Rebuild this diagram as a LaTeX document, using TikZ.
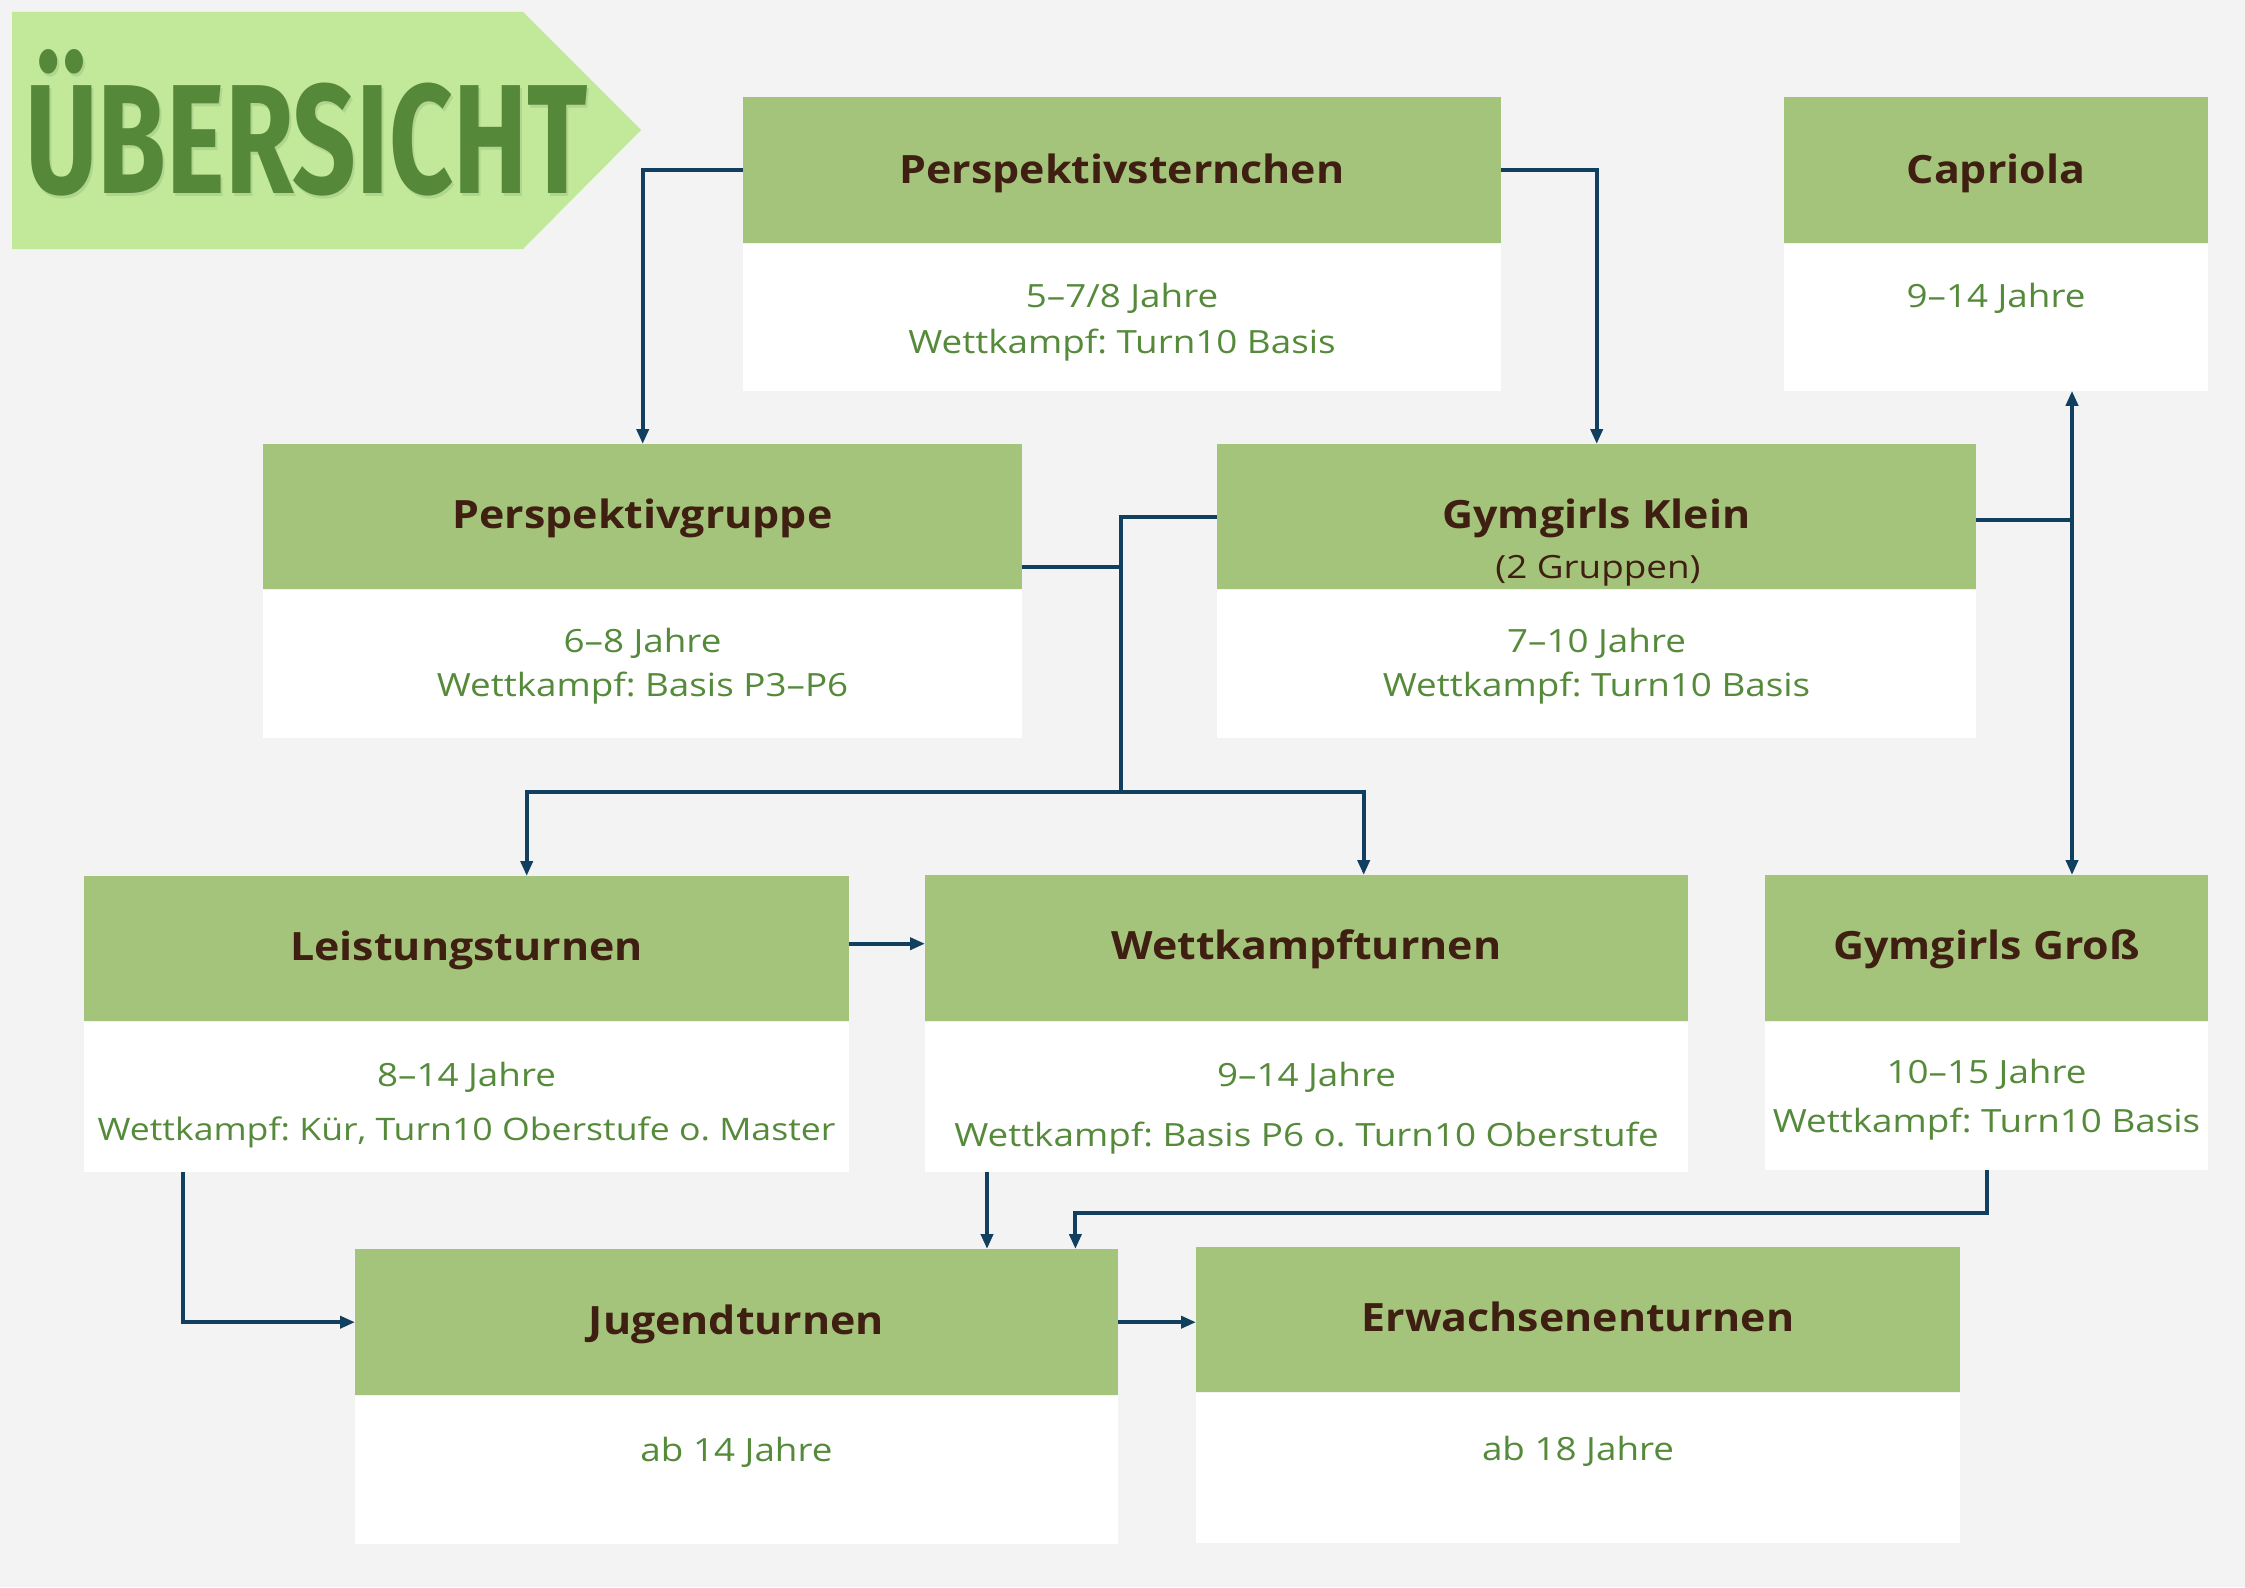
\documentclass[tikz,border=0pt]{standalone}
\usepackage{fontspec}
\setmainfont{Open Sans}
\newfontfamily\bodyfont{Open Sans}[FakeStretch=1.15]
\newfontfamily\headfont{Open Sans}[FakeStretch=1.1]
\newfontfamily\titlefont{Fira Sans}
\usetikzlibrary{arrows.meta}
\definecolor{bg}{HTML}{F3F3F3}
\definecolor{hdrgreen}{HTML}{A4C47C}
\definecolor{bannergreen}{HTML}{C2E89A}
\definecolor{titlegreen}{HTML}{56883A}
\definecolor{shadowgreen}{HTML}{B0D58E}
\definecolor{brown}{HTML}{3E1F12}
\definecolor{txtgreen}{HTML}{558A3B}
\definecolor{linkblue}{HTML}{113F5F}
\newcommand\mycard[6]{%
  \node[hdr, minimum width=#4pt, minimum height=#5pt] (#1-h) at (#2,#3) {};
  \node[bdy, minimum width=#4pt, minimum height=#6pt] (#1-b) at (#1-h.south west) {};
}
\frenchspacing
\begin{document}
\begin{tikzpicture}[x=1pt,y=-1pt,
  hdr/.style={fill=hdrgreen, draw=none, inner sep=0pt, anchor=north west},
  bdy/.style={fill=white, draw=none, inner sep=0pt, anchor=north west},
  ttl/.style={anchor=base, inner sep=0pt, text=brown, font=\fontsize{39}{47}\selectfont\headfont\bfseries},
  sub/.style={anchor=base, inner sep=0pt, text=brown, font=\fontsize{32}{38}\selectfont\bodyfont},
  txt/.style={anchor=base, inner sep=0pt, text=txtgreen, font=\fontsize{32}{38}\selectfont\bodyfont},
  arr/.style={draw=linkblue, line width=4pt, -{Triangle[length=15pt,width=12pt]}},
  lnk/.style={draw=linkblue, line width=4pt}]
\useasboundingbox[fill=bg] (0,0) rectangle (2245,1587);

% banner
\fill[bannergreen] (12,12) -- (523,12) -- (641,130) -- (523,249) -- (12,249) -- cycle;
\node[anchor=north west, inner sep=0pt, text=shadowgreen] (titleshadow) at (27,52)
  {\resizebox{562pt}{144pt}{\titlefont\bfseries ÜBERSICHT}};
\node[anchor=north west, inner sep=0pt, text=titlegreen] (title) at (25,49)
  {\resizebox{562pt}{144pt}{\titlefont\bfseries ÜBERSICHT}};

% cards
\mycard{ps}{743}{97}{758}{146}{147}
\mycard{cap}{1784}{97}{424}{146}{147}
\mycard{pg}{263}{444}{759}{145}{148}
\mycard{gk}{1217}{444}{759}{145}{148}
\mycard{lt}{84}{876}{765}{145}{150}
\mycard{wt}{925}{875}{763}{146}{150}
\mycard{gg}{1765}{875}{443}{146}{148}
\mycard{jt}{355}{1249}{763}{146}{148}
\mycard{et}{1196}{1247}{764}{145}{150}

% texts
\node[ttl] (ps-t) at (1122,183) {Perspektivsternchen};
\node[txt] (ps-1) at (1122,307) {5–7/8 Jahre};
\node[txt] (ps-2) at (1122,353) {Wettkampf: Turn10 Basis};

\node[ttl] (cap-t) at (1996,183) {Capriola};
\node[txt] (cap-1) at (1996,307) {9–14 Jahre};

\node[ttl] (pg-t) at (642.5,528) {Perspektivgruppe};
\node[txt] (pg-1) at (642.5,652) {6–8 Jahre};
\node[txt] (pg-2) at (642.5,696) {Wettkampf: Basis P3–P6};

\node[ttl] (gk-t) at (1596.5,528) {Gymgirls Klein};
\node[sub] (gk-s) at (1598,578) {(2 Gruppen)};
\node[txt] (gk-1) at (1596.5,652) {7–10 Jahre};
\node[txt] (gk-2) at (1596.5,696) {Wettkampf: Turn10 Basis};

\node[ttl] (lt-t) at (466.5,960) {Leistungsturnen};
\node[txt] (lt-1) at (466.5,1086) {8–14 Jahre};
\node[txt, font=\fontsize{31}{37}\selectfont\bodyfont] (lt-2) at (466.5,1140) {Wettkampf: Kür, Turn10 Oberstufe o. Master};

\node[ttl] (wt-t) at (1306.5,959) {Wettkampfturnen};
\node[txt] (wt-1) at (1306.5,1086) {9–14 Jahre};
\node[txt] (wt-2) at (1306.5,1146) {Wettkampf: Basis P6 o. Turn10 Oberstufe};

\node[ttl] (gg-t) at (1986.5,959) {Gymgirls Groß};
\node[txt] (gg-1) at (1986.5,1083) {10–15 Jahre};
\node[txt] (gg-2) at (1986.5,1132) {Wettkampf: Turn10 Basis};

\node[ttl] (jt-t) at (736.5,1334) {Jugendturnen};
\node[txt] (jt-1) at (736.5,1461) {ab 14 Jahre};

\node[ttl] (et-t) at (1578,1331) {Erwachsenenturnen};
\node[txt] (et-1) at (1578,1460) {ab 18 Jahre};

% connectors
\coordinate (jn) at (2072,520);
\coordinate (hub) at (1121,792);

\draw[arr] (ps-h.west) -| (pg-h.north);
\draw[arr] (ps-h.east) -| (gk-h.north);

\draw[lnk] ([yshift=-3pt]gk-h.east) -- ([yshift=-3pt]gk-h.east -| jn);
\draw[arr] ([yshift=-3pt]gk-h.east -| jn) -- (jn |- cap-b.south);
\draw[arr] ([yshift=-3pt]gk-h.east -| jn) -- (jn |- gg-h.north);

\draw[lnk] ([yshift=22pt]pg-h.south east) -- ([yshift=22pt]pg-h.south east -| hub);
\draw[lnk] (gk-h.west) -| (hub);
\draw[arr] (hub) -| ([xshift=60pt]lt-h.north);
\draw[arr] (hub) -| ([xshift=57pt]wt-h.north);

\draw[arr] ([yshift=5pt]lt-h.east) -- ([yshift=5pt]lt-h.east -| wt-h.west);
\draw[arr] ([xshift=99pt]lt-b.south west) |- (jt-h.west);
\draw[arr] ([xshift=62pt]wt-b.south west) -- ([xshift=62pt]wt-b.south west |- jt-h.north);
\draw[arr] (gg-b.south) -- ++(0,43) -| ([xshift=-43pt]jt-h.north east);
\draw[arr] (jt-h.east) -- (jt-h.east -| et-h.west);
\end{tikzpicture}
\end{document}
